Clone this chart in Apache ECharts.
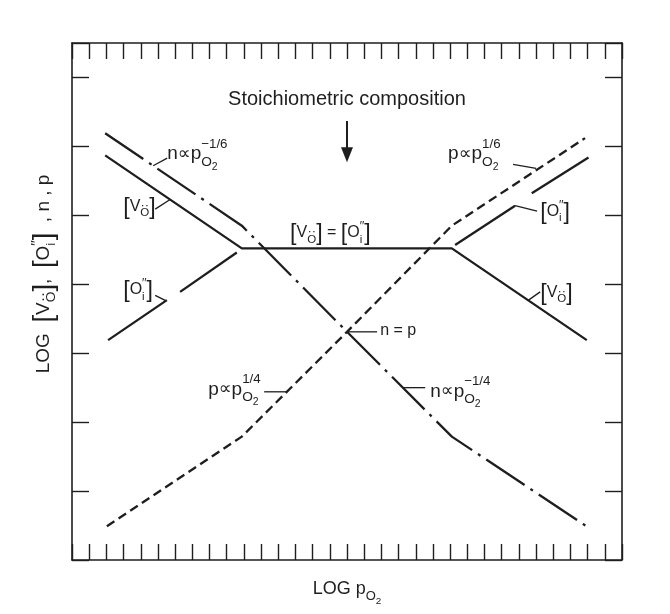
<!DOCTYPE html>
<html><head><meta charset="utf-8">
<script src="https://cdn.jsdelivr.net/npm/echarts@6/dist/echarts.min.js"></script>
<style>html,body{margin:0;padding:0;background:#fff}#c{width:670px;height:614px}</style>
</head><body><div id="c"></div>
<script>
// ---- data (x: LOG pO2 in tick units, y: LOG concentration in tick units) ----
const vacancyO = [[0.93, 5.87], [8.88, 4.52], [21.1, 4.52], [28.95, 3.19]];
const electronsN = [[0.93, 6.19], [8.88, 4.85], [15.0, 3.31], [21.1, 1.79], [29.05, 0.47]];
const holesP = [[1.03, 0.49], [8.88, 1.79], [15.0, 3.31], [21.1, 4.85], [28.85, 6.12]];
const interstitialOLeftA = [[1.1, 3.19], [4.52, 3.77]];
const interstitialOLeftB = [[5.29, 3.89], [8.59, 4.46]];
const interstitialORightA = [[21.29, 4.57], [24.78, 5.14]];
const interstitialORightB = [[25.75, 5.32], [29.05, 5.84]];
const leaderLines = [
  [3.72, 5.72, 4.54, 5.83],
  [3.84, 5.09, 4.71, 5.23],
  [3.84, 3.84, 4.48, 3.76],
  [24.66, 5.74, 26.0, 5.68],
  [24.78, 5.14, 26.06, 5.06],
  [25.56, 3.77, 26.24, 3.89],
  [15.07, 3.31, 16.75, 3.31],
  [10.18, 2.44, 11.52, 2.44],
  [18.27, 2.50, 19.55, 2.50]
];
const arrowStoich = [[15.0, 6.37, 5.77]];
const xRange = [-1, 31];
const yRange = [0, 7.5];

// ---- annotation texts ----
const labelSpecs = [
  {at: [4.54, 5.79], F: 19, parts: [['n', 'n'], ['prop', '∝'], ['n', 'p'], ['sub', 'O'], ['sub2', '2'], ['sup', '−1/6']]},
  {at: [1.98, 5.05], F: 16, parts: [['br', '['], ['n', 'V'], ['sub', 'O'], ['dots', '··'], ['br', ']']]},
  {at: [11.69, 4.67], F: 16, parts: [['br', '['], ['n', 'V'], ['sub', 'O'], ['dots', '··'], ['br', ']'], ['n', ' = '], ['br', '['], ['n', 'O'], ['sub', 'i'], ['prime', '′′'], ['br', ']']]},
  {at: [1.98, 3.84], F: 16, parts: [['br', '['], ['n', 'O'], ['sub', 'i'], ['prime', '′′'], ['br', ']']]},
  {at: [20.88, 5.79], F: 19, parts: [['n', 'p'], ['prop', '∝'], ['n', 'p'], ['sub', 'O'], ['sub2', '2'], ['sup', '1/6']]},
  {at: [26.24, 4.98], F: 16, parts: [['br', '['], ['n', 'O'], ['sub', 'i'], ['prime', '′′'], ['br', ']']]},
  {at: [26.24, 3.80], F: 16, parts: [['br', '['], ['n', 'V'], ['sub', 'O'], ['dots', '··'], ['br', ']']]},
  {at: [16.93, 3.24], F: 16, parts: [['n', 'n = p']]},
  {at: [6.92, 2.38], F: 19, parts: [['n', 'p'], ['prop', '∝'], ['n', 'p'], ['sub', 'O'], ['sub2', '2'], ['sup', '1/4']]},
  {at: [19.84, 2.35], F: 19, parts: [['n', 'n'], ['prop', '∝'], ['n', 'p'], ['sub', 'O'], ['sub2', '2'], ['sup', '−1/4']]},
  {at: [15.0, 6.58], F: 20, align: 'center', parts: [['n', 'Stoichiometric composition']]},
  {at: [15.0, -0.51], F: 18, align: 'center', parts: [['n', 'LOG p'], ['sub', 'O'], ['sub2', '2']]},
  {at: [-2.27, 4.15], F: 19, align: 'center', rotate: Math.PI / 2, parts: [['n', 'LOG  '], ['br', '['], ['n', 'V'], ['sub', 'O'], ['dots', '··'], ['br', ']'], ['n', ',  '], ['br', '['], ['n', 'O'], ['sub', 'i'], ['prime', '′′'], ['br', ']'], ['n', '  , n , p']]}
];

const FAMILY = '"Liberation Sans","DejaVu Sans",sans-serif';
const PROP_FAMILY = '"DejaVu Sans",sans-serif';
const INK = '#1e1e1e';
const ctx2d = document.createElement('canvas').getContext('2d');
function textWidth(t, font) { ctx2d.font = font; return ctx2d.measureText(t).width; }
const ROLE = {
  n:    {k: 1.00, dy: 0},
  prop: {k: 0.95, dy: 0, fam: PROP_FAMILY},
  br:   {k: 1.45, dy: 0.22},
  sub:  {k: 0.72, dy: 0.33},
  sub2: {k: 0.55, dy: 0.52},
  sup:  {k: 0.70, dy: -0.62, stack: true},
  dots: {k: 0.80, dy: -0.12, stack: true, center: true},
  prime:{k: 0.75, dy: -0.45, stack: true}
};
function layout(parts, F) {
  let cur = 0, stackStart = 0, subW = 0;
  const els = [];
  parts.forEach(function (pt) {
    const role = pt[0], t = pt[1], r = ROLE[role], size = F * r.k;
    const font = size + 'px ' + (r.fam || FAMILY);
    const w = textWidth(t, font);
    let x;
    if (r.stack) {
      x = r.center ? stackStart + (subW - w) / 2 : stackStart;
      cur = Math.max(cur, x + w);
    } else {
      x = cur;
      if (role === 'sub') { stackStart = x; subW = w; }
      cur = x + w;
    }
    els.push({type: 'text', x: x, y: r.dy * F - 0.35 * size,
      style: {text: t, font: font, fill: INK, align: 'left', verticalAlign: 'middle'}});
  });
  return {els: els, width: cur};
}

function lineSeries(data, type, width) {
  return {type: 'line', data: data, symbol: 'none', silent: true, animation: false,
    lineStyle: {color: INK, width: width || 2.3, type: type || 'solid', cap: 'butt'}};
}
function axisCommon(extra) {
  return Object.assign({
    type: 'value', axisLine: {show: true, onZero: false, lineStyle: {color: INK, width: 1.6}},
    axisLabel: {show: false}, splitLine: {show: false}, interval: 1
  }, extra);
}

const chart = echarts.init(document.getElementById('c'), null, {renderer: 'canvas'});
chart.setOption({
  animation: false,
  backgroundColor: '#fff',
  grid: {left: 72, right: 48, top: 43, bottom: 54},
  xAxis: [
    axisCommon({min: xRange[0], max: xRange[1], position: 'bottom',
      axisTick: {show: true, inside: true, length: 16, lineStyle: {color: INK, width: 1.4}}}),
    axisCommon({min: xRange[0], max: xRange[1], position: 'top',
      axisTick: {show: true, inside: true, length: 16, lineStyle: {color: INK, width: 1.4}}})
  ],
  yAxis: [
    axisCommon({min: yRange[0], max: yRange[1], position: 'left',
      axisTick: {show: true, inside: true, length: 17, lineStyle: {color: INK, width: 1.4}}}),
    axisCommon({min: yRange[0], max: yRange[1], position: 'right',
      axisTick: {show: true, inside: true, length: 17, lineStyle: {color: INK, width: 1.4}}})
  ],
  series: [
    lineSeries(vacancyO, 'solid'),
    lineSeries(electronsN, [46, 7, 3, 7]),
    lineSeries(holesP, [9, 5]),
    lineSeries(interstitialOLeftA, 'solid'),
    lineSeries(interstitialOLeftB, 'solid'),
    lineSeries(interstitialORightA, 'solid'),
    lineSeries(interstitialORightB, 'solid'),
    {
      type: 'custom', silent: true, clip: false, encode: {x: [0, 2], y: [1, 3]},
      data: leaderLines,
      renderItem: function (params, api) {
        const a = api.coord([api.value(0), api.value(1)]);
        const b = api.coord([api.value(2), api.value(3)]);
        return {type: 'line', shape: {x1: a[0], y1: a[1], x2: b[0], y2: b[1]},
          style: {stroke: INK, lineWidth: 1.3}};
      }
    },
    {
      type: 'custom', silent: true, clip: false, encode: {x: 0, y: [1, 2]},
      data: arrowStoich,
      renderItem: function (params, api) {
        const top = api.coord([api.value(0), api.value(1)]);
        const tip = api.coord([api.value(0), api.value(2)]);
        return {type: 'group', children: [
          {type: 'line', shape: {x1: top[0], y1: top[1], x2: tip[0], y2: tip[1] - 10},
            style: {stroke: INK, lineWidth: 2}},
          {type: 'polygon', shape: {points: [[tip[0] - 6, tip[1] - 15], [tip[0] + 6, tip[1] - 15], [tip[0], tip[1]]]},
            style: {fill: INK}}
        ]};
      }
    },
    {
      type: 'custom', silent: true, clip: false, encode: {x: 0, y: 1},
      data: labelSpecs.map(function (s, i) { return [s.at[0], s.at[1], i]; }),
      renderItem: function (params, api) {
        const spec = labelSpecs[api.value(2)];
        const p = api.coord([api.value(0), api.value(1)]);
        const L = layout(spec.parts, spec.F);
        const off = spec.align === 'center' ? -L.width / 2 : 0;
        L.els.forEach(function (e) { e.x += off; });
        return {type: 'group', x: p[0], y: p[1], rotation: spec.rotate || 0, children: L.els};
      }
    }
  ]
});
</script></body></html>
